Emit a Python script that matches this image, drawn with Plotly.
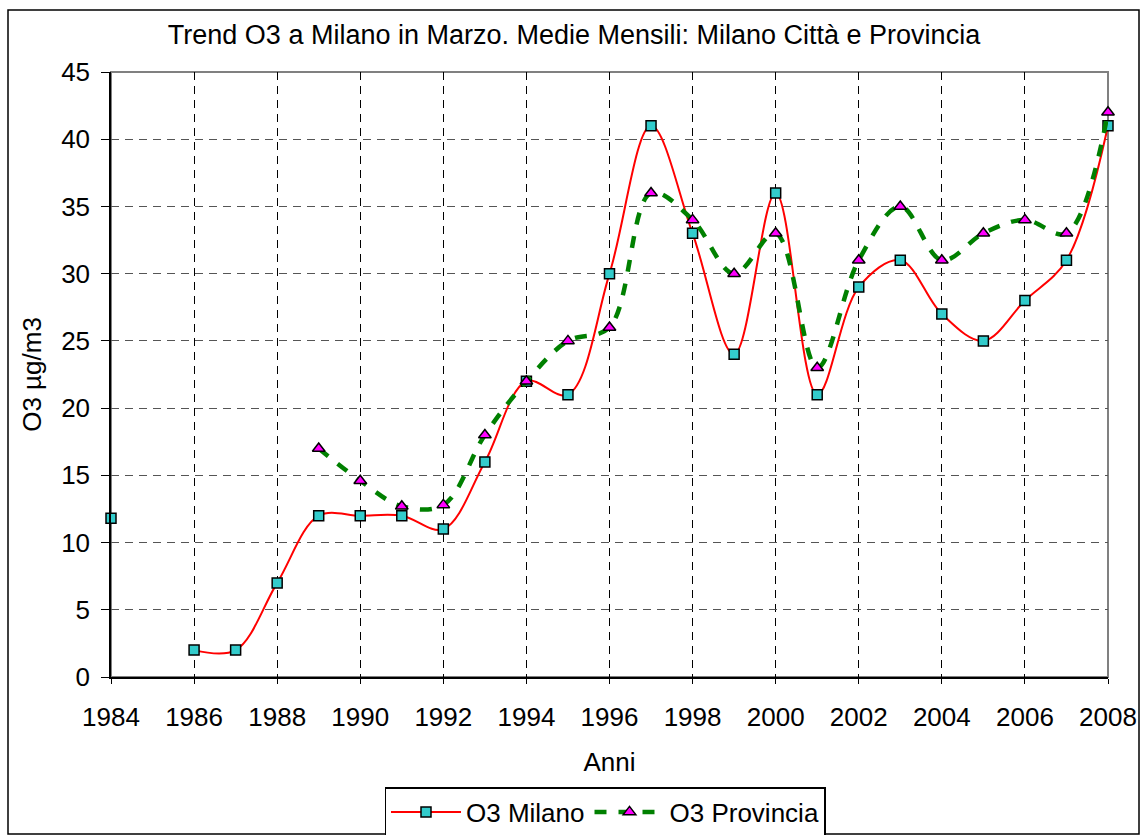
import plotly.graph_objects as go

years = list(range(1984, 2009))
milano = [11.8, None, 2, 2, 7, 12, 12, 12, 11, 16, 22, 21, 30, 41, 33, 24, 36, 21, 29, 31, 27, 25, 28, 31, 41]
provincia = [None, None, None, None, None, 17, 14.6, 12.7, 12.8, 18, 22, 25, 26, 36, 34, 30, 33, 23, 31, 35, 31, 33, 34, 33, 42]

title_text = "Trend O3 a Milano in Marzo. Medie Mensili: Milano Città e Provincia"
x_title = "Anni"
y_title = "O3 µg/m3"

FONT = "Liberation Sans, Arial, sans-serif"

fig = go.Figure()
fig.add_trace(go.Scatter(
    x=years, y=milano, name="O3 Milano", mode="lines+markers",
    line=dict(color="#FF0000", width=2, shape="spline", smoothing=1),
    marker=dict(symbol="square", size=10, color="#33CCCC", line=dict(color="#000000", width=1.5)),
    connectgaps=False, cliponaxis=False,
))
fig.add_trace(go.Scatter(
    x=years, y=provincia, name="O3 Provincia", mode="lines+markers",
    line=dict(color="#008000", width=4.5, dash="12px,12px", shape="spline", smoothing=1),
    marker=dict(symbol="triangle-up", size=11, color="#FF00FF", line=dict(color="#000000", width=1.5)),
    connectgaps=False, cliponaxis=False,
))

W, H = 1141, 835
L, T = 111, 72
R = W - 1108
B = H - 677
pw, ph = W - L - R, H - T - B

def px_x(p):
    return (p - L) / pw

def px_y(p):
    return (H - B - p) / ph

fig.update_layout(
    width=W, height=H,
    margin=dict(l=L, r=R, t=T, b=B, autoexpand=False),
    paper_bgcolor="white", plot_bgcolor="white",
    font=dict(family=FONT, size=26, color="black"),
    title=dict(text=title_text, x=574 / W, xref="container", xanchor="center",
               y=1 - 35 / H, yref="container", yanchor="middle",
               font=dict(size=27, family=FONT, color="black")),
    showlegend=True,
    legend=dict(orientation="h", x=px_x(605), xanchor="center", y=px_y(787), yanchor="top",
                bordercolor="black", borderwidth=1.5, bgcolor="white",
                font=dict(size=26, family=FONT), itemwidth=70,
                traceorder="normal"),
    xaxis=dict(range=[1984, 2008], dtick=2, tick0=1984, showgrid=True,
               gridcolor="#000000", gridwidth=1, griddash="8px,6px",
               showline=True, linecolor="#000000", linewidth=1.5,
               ticks="outside", ticklen=5, tickcolor="#000000",
               ticklabelstandoff=11,
               zeroline=False, tickfont=dict(size=26), automargin=False,
               title=dict(text=x_title, font=dict(size=26), standoff=22)),
    yaxis=dict(range=[0, 45], dtick=5, showgrid=True,
               gridcolor="#555555", gridwidth=1, griddash="8px,6px",
               showline=True, linecolor="#000000", linewidth=1.5,
               ticks="outside", ticklen=8, tickcolor="#000000",
               ticklabelstandoff=6,
               zeroline=False, tickfont=dict(size=26), automargin=False,
               title=dict(text=y_title, font=dict(size=26), standoff=12)),
    shapes=[
        dict(type="rect", xref="paper", yref="paper", x0=0, x1=1, y0=0, y1=1,
             line=dict(color="#808080", width=2), layer="below"),
        dict(type="rect", xref="paper", yref="paper",
             x0=px_x(8), x1=px_x(1139), y0=px_y(10), y1=px_y(834),
             line=dict(color="#000000", width=1.5), layer="below"),
    ],
)

fig.write_html("out.html",
               config={"displayModeBar": False},
               post_script="document.body.style.margin='0';document.body.style.overflow='hidden';")
